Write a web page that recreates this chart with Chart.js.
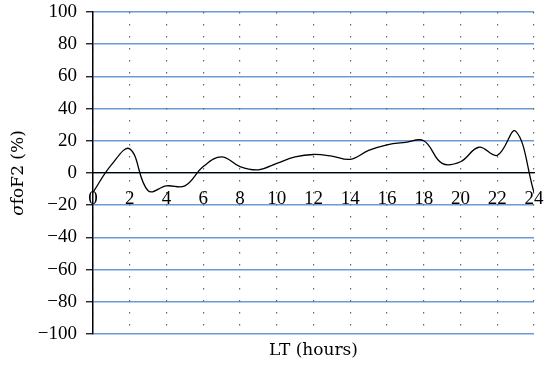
<!DOCTYPE html>
<html>
<head>
<meta charset="utf-8">
<script src="https://cdn.jsdelivr.net/npm/chart.js@4.4.0/dist/chart.umd.min.js"></script>
<style>
  html, body { margin:0; padding:0; background:#fff; }
  #wrap { width:545px; height:368px; }
</style>
</head>
<body>
<div id="wrap"><canvas id="chart" width="545" height="368"></canvas></div>
<script>
// local time (hours)
const hours = [0,1,2,3,4,5,6,7,8,9,10,11,12,13,14,15,16,17,18,19,20,21,22,23,24];
// sigma foF2 (%)
const sigmaFoF2 = [-12, 5, 15, -11, -8, -8, 4, 10, 4, 2, 6, 10, 11.5, 10.5, 8.5, 14, 17.5, 19, 20, 6, 7, 16, 11, 26, -12];

const yMin = -100, yMax = 100, yStep = 20;
const xMin = 0, xMax = 24, xStep = 2;

const tickFamily = '"Liberation Serif", "Times New Roman", serif';
const titleFamily = '"DejaVu Serif", serif';
const tickFont = { family: tickFamily, size: 19 };
const titleFont = { family: titleFamily, size: 17 };
const minus = v => String(v).replace('-', '\u2212');

const points = hours.map((h, i) => ({ x: h, y: sigmaFoF2[i] }));

// labels may hang outside the plot, don't let them shrink it
function noPad(s) {
    s.paddingLeft = 0; s.paddingRight = 0;
    s.paddingTop = 0; s.paddingBottom = 0;
}

// y title with italic sigma, the built-in title only takes one font
const yTitle = {
    id: 'yTitle',
    afterDraw(chart) {
        const ctx = chart.ctx, area = chart.chartArea;
        const parts = [['italic', 'σ'], ['normal', 'foF2 (%)']];
        let total = 0;
        parts.forEach(p => { ctx.font = `${p[0]} 17px ${titleFamily}`; total += ctx.measureText(p[1]).width; });
        ctx.save();
        ctx.translate(19, (area.top + area.bottom) / 2);
        ctx.rotate(-Math.PI / 2);
        ctx.fillStyle = '#000';
        ctx.textBaseline = 'middle';
        ctx.textAlign = 'left';
        let x = -total / 2;
        parts.forEach(p => {
            ctx.font = `${p[0]} 17px ${titleFamily}`;
            ctx.fillText(p[1], x, 0);
            x += ctx.measureText(p[1]).width;
        });
        ctx.restore();
    }
};

new Chart(document.getElementById('chart').getContext('2d'), {
    type: 'line',
    data: {
        datasets: [{
            data: points,
            xAxisID: 'x',
            yAxisID: 'y',
            borderColor: '#000',
            borderWidth: 1.3,
            pointRadius: 0,
            tension: 0.4,
            fill: false
        }]
    },
    options: {
        responsive: false,
        animation: false,
        layout: { padding: { top: 12, right: 11, left: 0, bottom: 0 } },
        plugins: { legend: { display: false }, tooltip: { enabled: false } },
        scales: {
            y: {
                type: 'linear', position: 'left', min: yMin, max: yMax,
                ticks: { stepSize: yStep, font: tickFont, color: '#000', padding: 9, callback: minus },
                grid: { color: '#6a9ad8', lineWidth: 1.5, tickColor: '#000', tickLength: 7, tickWidth: 1.2 },
                border: { color: '#000', width: 1.5 },
                afterFit: s => { s.width = 93; noPad(s); }
            },
            x: {
                type: 'linear', position: 'bottom', min: xMin, max: xMax,
                ticks: { stepSize: xStep, display: false },
                grid: { color: '#666', lineWidth: 1.2, drawTicks: false },
                border: { display: false, dash: [1.5, 10.5] },
                title: { display: true, text: 'LT (hours)', font: titleFont, color: '#000', padding: { top: 0, bottom: 7 } },
                afterFit: s => { s.height = 34; noPad(s); }
            },
            x2: {
                type: 'linear', position: { y: 0 }, min: xMin, max: xMax,
                ticks: { stepSize: xStep, font: tickFont, color: '#000', padding: 15, maxRotation: 0, autoSkip: false },
                grid: { drawOnChartArea: false, drawTicks: false },
                border: { color: '#000', width: 1.2, z: 1 },
                afterFit: s => { s.height = 0; noPad(s); }
            }
        }
    },
    plugins: [yTitle]
});
</script>
</body>
</html>
